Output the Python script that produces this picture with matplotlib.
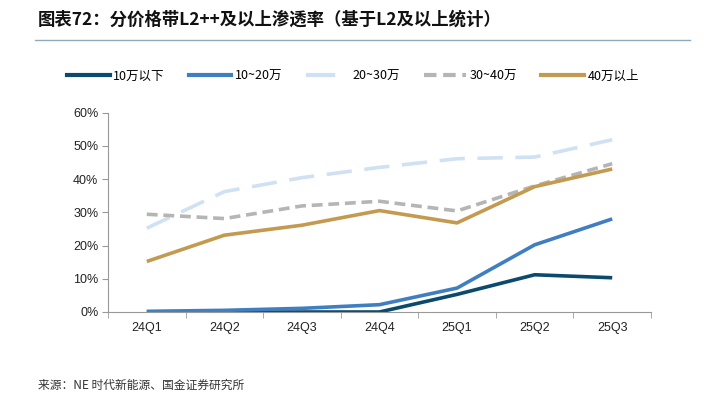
import matplotlib
matplotlib.use("Agg")
import matplotlib.pyplot as plt
from matplotlib.lines import Line2D
import numpy as np

plt.rcParams['font.family'] = ['Noto Sans CJK SC', 'DejaVu Sans']

quarters = ['24Q1', '24Q2', '24Q3', '24Q4', '25Q1', '25Q2', '25Q3']
below_10 = [0.0, 0.0, 0.0, 0.0, 5.3, 11.2, 10.3]
r10_20 = [0.2, 0.5, 1.1, 2.2, 7.2, 20.2, 28.0]
r20_30 = [25.2, 36.2, 40.4, 43.5, 46.1, 46.6, 51.8]
r30_40 = [29.4, 28.1, 31.9, 33.3, 30.4, 37.9, 44.6]
above_40 = [15.2, 23.1, 26.1, 30.5, 26.8, 37.7, 43.0]

labels = ['10万以下', '10~20万', '20~30万', '30~40万', '40万以上']

fig = plt.figure(figsize=(7.06, 3.99), dpi=100)
ax = fig.add_axes([108/706, 1-312/399, (651-108)/706, (312-112.5)/399])

x = np.arange(len(quarters))
lw = 2.6
ax.plot(x, below_10, color='#0B4A6E', lw=lw, solid_capstyle='butt')
ax.plot(x, r10_20, color='#3F7FC1', lw=lw, solid_capstyle='butt')
ax.plot(x, r20_30, color='#CFE1F3', lw=lw, dashes=(7, 3.5), dash_capstyle='butt')
ax.plot(x, r30_40, color='#B5B5B5', lw=lw, dashes=(3, 1.6), dash_capstyle='butt')
ax.plot(x, above_40, color='#C49A50', lw=lw, solid_capstyle='butt')

ax.set_xlim(-0.5, len(quarters) - 0.5)
ax.set_ylim(0, 60)
ax.set_yticks(range(0, 61, 10))
ax.set_yticklabels([f'{v}%' for v in range(0, 61, 10)], fontsize=9, color='#222222',
                   family=['Liberation Sans', 'DejaVu Sans'])
ax.set_xticks(x)
ax.set_xticklabels(quarters, fontsize=9, color='#222222', family=['Liberation Sans', 'DejaVu Sans'])
ax.set_xticks(np.arange(-0.5, len(quarters), 1), minor=True)
ax.tick_params(axis='x', which='major', length=0, pad=7)
ax.tick_params(axis='x', which='minor', length=4, color='#999999', direction='out')
ax.tick_params(axis='y', length=4, color='#999999', pad=3)
for s in ['top', 'right']:
    ax.spines[s].set_visible(False)
ax.spines['left'].set_color('#999999')
ax.spines['bottom'].set_color('#999999')

handles = [
    Line2D([], [], color='#0B4A6E', lw=3),
    Line2D([], [], color='#3F7FC1', lw=3),
    Line2D([], [], color='#CFE1F3', lw=3, dashes=(7, 3.5)),
    Line2D([], [], color='#B5B5B5', lw=3, dashes=(3, 1.6)),
    Line2D([], [], color='#C49A50', lw=3),
]
fig.legend(handles, labels, loc='center', bbox_to_anchor=(353/706, 1-76/399), ncol=5,
           frameon=False, fontsize=9, handlelength=3.4, handletextpad=0.3, columnspacing=1.9)

fig.text(38/706, 1-20/399, '图表72：分价格带L2++及以上渗透率（基于L2及以上统计）',
         fontsize=12.5, fontweight='bold', fontstyle='italic', va='center', ha='left', color='#111111')
fig.add_artist(Line2D([35/706, 690/706], [1-40/399, 1-40/399], color='#8FA9C0', lw=1))
fig.text(38/706, 1-385/399, '来源：NE 时代新能源、国金证券研究所', fontsize=8.5, va='center',
         ha='left', color='#333333')

fig.savefig('out.png', dpi=100)
